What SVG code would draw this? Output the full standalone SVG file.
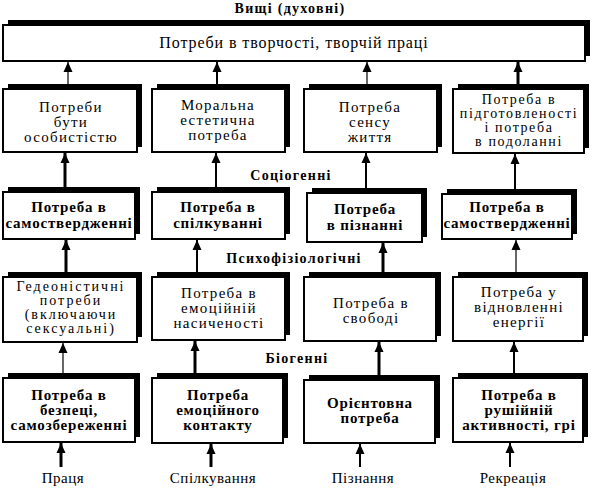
<svg xmlns="http://www.w3.org/2000/svg" width="592" height="488" viewBox="0 0 592 488" font-family="'Liberation Serif', 'DejaVu Serif', serif">
<style>
.sh{fill:#000}
.bx{fill:#fff;stroke:#000;stroke-width:2}
.t{font-family:'Liberation Serif','DejaVu Serif',serif;font-size:15px;fill:#000;text-anchor:middle;letter-spacing:1.3px}
.s{font-size:14px;letter-spacing:1.6px}
.tb{font-weight:bold;font-size:15px;letter-spacing:0.8px}
.lb{letter-spacing:0.5px}
.g{font-family:'Liberation Serif','DejaVu Serif',serif;font-size:14px;font-weight:bold;fill:#000;text-anchor:middle;letter-spacing:1.3px}
.c{fill:none;stroke:#000}
.w1{stroke-width:1.2}
.w2{stroke-width:2}
.w3{stroke-width:3}
</style>
<defs>
<marker id="ah" markerUnits="userSpaceOnUse" markerWidth="10" markerHeight="12" refX="10" refY="4.5" orient="auto" viewBox="0 0 10 9">
<path d="M0,0 L10,4.5 L0,9 Z" fill="#000"/>
</marker>
</defs>

<text class="g" x="290" y="13">Вищі (духовні)</text>
<text class="g" x="291" y="180">Соціогенні</text>
<text class="g" x="294" y="263">Психофізіологічні</text>
<text class="g" x="297" y="363">Біогенні</text>

<g id="top">
<rect class="sh" x="8" y="20" width="582" height="36"/>
<rect class="bx" x="3" y="25" width="582" height="36"/>
<text class="t" x="294" y="48" style="font-size:16px;letter-spacing:0.9px">Потреби в творчості, творчій праці</text>
</g>

<g id="r2c1">
<rect class="sh" x="8" y="84" width="134" height="63"/>
<rect class="bx" x="3" y="89" width="134" height="63"/>
<text class="t" x="71" y="112">Потреби</text>
<text class="t" x="71" y="127">бути</text>
<text class="t" x="71" y="142">особистістю</text>
</g>
<g id="r2c2">
<rect class="sh" x="157" y="84" width="133" height="63"/>
<rect class="bx" x="152" y="89" width="133" height="63"/>
<text class="t" x="218" y="110">Моральна</text>
<text class="t" x="218" y="125">естетична</text>
<text class="t" x="218" y="140">потреба</text>
</g>
<g id="r2c3">
<rect class="sh" x="309" y="84" width="133" height="63"/>
<rect class="bx" x="304" y="89" width="133" height="63"/>
<text class="t" x="370" y="112">Потреба</text>
<text class="t" x="370" y="127">сенсу</text>
<text class="t" x="370" y="142">життя</text>
</g>
<g id="r2c4">
<rect class="sh" x="458" y="84" width="131" height="64"/>
<rect class="bx" x="453" y="89" width="131" height="64"/>
<text class="t s" x="519" y="104">Потреба в</text>
<text class="t s" x="519" y="118">підготовленості</text>
<text class="t s" x="519" y="132">і потреба</text>
<text class="t s" x="519" y="146">в подоланні</text>
</g>

<g id="r3c1">
<rect class="sh" x="8" y="187" width="132" height="47"/>
<rect class="bx" x="3" y="192" width="132" height="47"/>
<text class="t tb" x="69" y="212">Потреба в</text>
<text class="t tb" x="69" y="228">самоствердженні</text>
</g>
<g id="r3c2">
<rect class="sh" x="157" y="187" width="133" height="47"/>
<rect class="bx" x="152" y="192" width="133" height="47"/>
<text class="t tb" x="218" y="212">Потреба в</text>
<text class="t tb" x="218" y="228">спілкуванні</text>
</g>
<g id="r3c3">
<rect class="sh" x="312" y="188" width="115" height="49"/>
<rect class="bx" x="307" y="193" width="115" height="49"/>
<text class="t tb" x="365" y="214">Потреба</text>
<text class="t tb" x="365" y="230">в пізнанні</text>
</g>
<g id="r3c4">
<rect class="sh" x="447" y="189" width="130" height="45"/>
<rect class="bx" x="442" y="194" width="130" height="45"/>
<text class="t tb" x="507" y="212">Потреба в</text>
<text class="t tb" x="507" y="228">самоствердженні</text>
</g>

<g id="r4c1">
<rect class="sh" x="8" y="272" width="134" height="65"/>
<rect class="bx" x="3" y="277" width="134" height="65"/>
<text class="t s" x="71" y="291" style="letter-spacing:2px">Гедеоністичні</text>
<text class="t s" x="71" y="305" style="letter-spacing:2px">потреби</text>
<text class="t s" x="71" y="319" style="letter-spacing:2px">(включаючи</text>
<text class="t s" x="71" y="333" style="letter-spacing:2px">сексуальні)</text>
</g>
<g id="r4c2">
<rect class="sh" x="157" y="272" width="133" height="63"/>
<rect class="bx" x="152" y="277" width="133" height="63"/>
<text class="t" x="219" y="298">Потреба в</text>
<text class="t" x="219" y="313">емоційній</text>
<text class="t" x="219" y="328">насиченості</text>
</g>
<g id="r4c3">
<rect class="sh" x="309" y="272" width="132" height="64"/>
<rect class="bx" x="304" y="277" width="132" height="64"/>
<text class="t" x="371" y="308">Потреба в</text>
<text class="t" x="371" y="323">свободі</text>
</g>
<g id="r4c4">
<rect class="sh" x="458" y="272" width="130" height="64"/>
<rect class="bx" x="453" y="277" width="130" height="64"/>
<text class="t" x="519" y="297">Потреба у</text>
<text class="t" x="519" y="312">відновленні</text>
<text class="t" x="519" y="327">енергії</text>
</g>

<g id="r5c1">
<rect class="sh" x="8" y="373" width="132" height="64"/>
<rect class="bx" x="3" y="378" width="132" height="64"/>
<text class="t tb" x="69" y="400">Потреба в</text>
<text class="t tb" x="69" y="415">безпеці,</text>
<text class="t tb" x="69" y="430">самозбереженні</text>
</g>
<g id="r5c2">
<rect class="sh" x="157" y="373" width="131" height="65"/>
<rect class="bx" x="152" y="378" width="131" height="65"/>
<text class="t tb" x="218" y="400">Потреба</text>
<text class="t tb" x="218" y="415">емоційного</text>
<text class="t tb" x="218" y="430">контакту</text>
</g>
<g id="r5c3">
<rect class="sh" x="309" y="375" width="131" height="63"/>
<rect class="bx" x="304" y="380" width="131" height="63"/>
<text class="t tb" x="370" y="408">Орієнтовна</text>
<text class="t tb" x="370" y="423">потреба</text>
</g>
<g id="r5c4">
<rect class="sh" x="458" y="373" width="130" height="64"/>
<rect class="bx" x="453" y="378" width="130" height="64"/>
<text class="t tb" x="519" y="400">Потреба в</text>
<text class="t tb" x="519" y="415">рушійній</text>
<text class="t tb" x="519" y="430">активності, грі</text>
</g>

<g id="labels">
<text class="t lb" x="63" y="483">Праця</text>
<text class="t lb" x="213" y="483">Спілкування</text>
<text class="t lb" x="363" y="483">Пізнання</text>
<text class="t lb" x="513" y="483">Рекреація</text>
</g>

<g id="connectors">
<path class="c w1" d="M68,84 V62" marker-end="url(#ah)"/>
<path class="c w2" d="M217,84 V62" marker-end="url(#ah)"/>
<path class="c w1" d="M367,84 V62" marker-end="url(#ah)"/>
<path class="c w3" d="M518,84 V62" marker-end="url(#ah)"/>

<path class="c w3" d="M65,187 V153" marker-end="url(#ah)"/>
<path class="c w2" d="M216,187 V153" marker-end="url(#ah)"/>
<path class="c w2" d="M366,188 V153" marker-end="url(#ah)"/>
<path class="c w2" d="M515,189 V154" marker-end="url(#ah)"/>

<path class="c w3" d="M66,272 V240" marker-end="url(#ah)"/>
<path class="c w2" d="M197,272 V240" marker-end="url(#ah)"/>
<path class="c w3" d="M383,272 V243" marker-end="url(#ah)"/>
<path class="c w1" d="M516,272 V240" marker-end="url(#ah)"/>

<path class="c w1" d="M63,373 V343" marker-end="url(#ah)"/>
<path class="c w3" d="M195,373 V341" marker-end="url(#ah)"/>
<path class="c w3" d="M379,375 V342" marker-end="url(#ah)"/>
<path class="c w2" d="M514,373 V342" marker-end="url(#ah)"/>

<path class="c w3" d="M61,467 V443" marker-end="url(#ah)"/>
<path class="c w3" d="M211,467 V444" marker-end="url(#ah)"/>
<path class="c w2" d="M360,467 V444" marker-end="url(#ah)"/>
<path class="c w2" d="M510,467 V443" marker-end="url(#ah)"/>
</g>
</svg>
